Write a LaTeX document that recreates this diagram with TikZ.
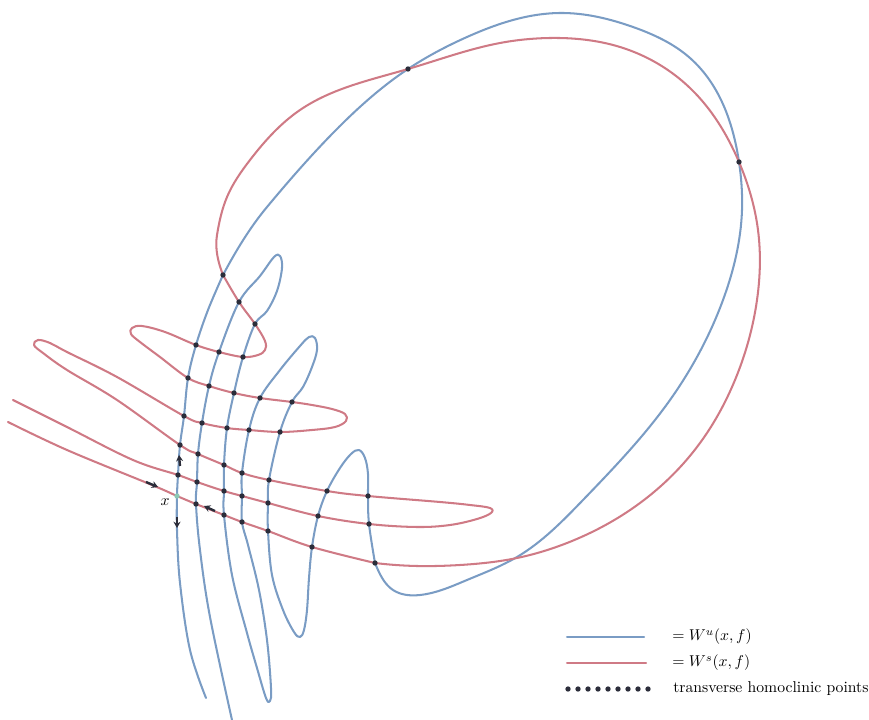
\documentclass[tikz,border=0pt]{standalone}
\usetikzlibrary{arrows.meta,hobby}
\definecolor{wublue}{HTML}{7A9CC4}
\definecolor{wsred}{HTML}{CF7A85}
\definecolor{hpdark}{HTML}{2B2D3A}
\definecolor{fixteal}{HTML}{8CC8B4}
\tikzset{
  unst/.style={wublue,line width=1.3pt,line cap=round,line join=round},
  stab/.style={wsred,line width=1.3pt,line cap=round,line join=round},
  hpt/.style={fill=hpdark},
  flow/.style={hpdark,line width=1.5pt,-{Stealth[length=4pt,width=4.5pt]}},
}
\begin{document}
\begin{tikzpicture}[x=0.0224cm,y=-0.0224cm]
\useasboundingbox (0,0) rectangle (869,720);
% transverse homoclinic points
\foreach \nm/\xx/\yy in {t1/408/69,t2/739/162,s1/223/275,s2/239/302,s3/255/324,
  a1/196/345,a2/219/352,a3/243/357,
  b1/188/378,b2/209/386,b3/234/393,b4/260/398,b5/292/402,
  c1/184/416,c2/202/423,c3/227/428,c4/249/430,c5/280/432,
  d1/180/445,d2/198/454,d3/224/465,d4/242/473,d5/269/480,d6/327/491,d7/368/496,
  e1/178/475,e2/197/482,e3/224/491,e4/242/496,e5/268/503,e6/318/516,e7/369/524,
  f2/196/504,f3/224/515,f4/242/522,f5/268/531,f6/312/547,f7/375/563}
  \coordinate (\nm) at (\xx,\yy);
\coordinate (x) at (177,496);
% unstable manifold
\draw[unst] plot[smooth,tension=0.6] coordinates {(206,698) (190,650) (180,583) (177,530) (x)
  (e1) (d1) (c1) (b1) (a1) (208,310) (s1)};
\draw[unst,use Hobby shortcut] (s1) .. (267,207) .. (333,133) .. (t1) .. (467,37) .. (560,13)
  .. (633,27) .. (690,58) .. (t2) .. (742,210) .. (723,300) .. (670,400) .. (583,500)
  .. (517,557) .. (467,580) .. (420,595) .. (393,590) .. (378,570) .. (f7);
\draw[unst] plot[smooth,tension=0.6] coordinates {(f7) (e7) (d7)
  (368,474) (365,458) (359,450) (351,454) (340,468) (d6) (e6) (f6) (309,578) (307,610)
  (304,630) (300,637) (294,632) (283,610) (272,575) (f5) (e5) (d5) (c5) (b5) (303,387)
  (312,367) (317,350) (315,338) (309,337) (300,346) (280,370) (b4) (c4) (d4) (e4) (f4)
  (248,545) (259,590) (267,640) (271,688) (270,701) (266,698) (257,668) (247,633) (232,575)
  (f3) (e3) (d3) (c3) (b3) (a3) (s3) (267,311) (277,291) (282,268) (280,256) (274,257)
  (260,276) (s2) (a2) (b2) (c2) (d2) (e2) (f2) (200,550) (210,617) (232,720)};
% stable manifold
\draw[stab] plot[smooth,tension=0.6] coordinates {(13,400) (67,427) (133,460) (e1) (e2) (e3)
  (e4) (e5) (e6) (e7) (417,527) (450,525) (477,519) (491,513) (490,508) (470,505) (440,502)
  (d7) (d6) (d5) (d4) (d3) (d2) (d1) (117,400) (67,370) (43,353) (34,345) (38,340) (50,343)
  (67,352) (117,377) (c1) (c2) (c3) (c4) (c5) (312,430) (335,427) (346,421) (345,414)
  (332,409) (312,405) (b5) (b4) (b3) (b2) (b1) (160,357) (140,342) (131,334) (132,328)
  (142,326) (165,332) (a1) (a2) (a3) (258,355) (265,350) (265,341) (s3) (s2) (s1)};
\draw[stab,use Hobby shortcut] (s1) .. (217,235) .. (227,197) .. (250,160) .. (300,110) .. (t1)
  .. (500,43) .. (550,38) .. (620,47) .. (690,88) .. (t2) .. (758,230) .. (757,300) .. (735,380)
  .. (700,443) .. (640,503) .. (567,543) .. (517,558) .. (460,565) .. (417,566) .. (f7);
\draw[stab] plot[smooth,tension=0.6] coordinates {(f7) (f6) (f5) (f4) (f3) (f2) (x) (152,485)
  (67,450) (8,422)};
% direction marks
\draw[flow] (180,466) -- (179,455);
\draw[flow] (177,517) -- (177,528);
\draw[flow] (146,482) -- (158,487);
\draw[flow] (215,511) -- (204,506);
\foreach \nm in {t1,t2,s1,s2,s3,a1,a2,a3,b1,b2,b3,b4,b5,c1,c2,c3,c4,c5,
  d1,d2,d3,d4,d5,d6,d7,e1,e2,e3,e4,e5,e6,e7,f2,f3,f4,f5,f6,f7}
  \fill[hpt] (\nm) circle (1.7pt);
\fill[fixteal] (x) circle (1.7pt);
\node (xlab) at (165,502) {$x$};
% legend
\draw[unst] (567,637) -- (644,637);
\draw[stab] (567,663) -- (646,663);
\foreach \i in {0,...,8} \fill[hpt] (568+10*\i,689) circle (1.7pt);
\node[anchor=west,inner sep=0] (lgu) at (672,637) {$=W^u(x,f)$};
\node[anchor=west,inner sep=0] (lgs) at (672,663) {$=W^s(x,f)$};
\node[anchor=west,inner sep=0] (lgh) at (673,689) {transverse homoclinic points};
\end{tikzpicture}
\end{document}
